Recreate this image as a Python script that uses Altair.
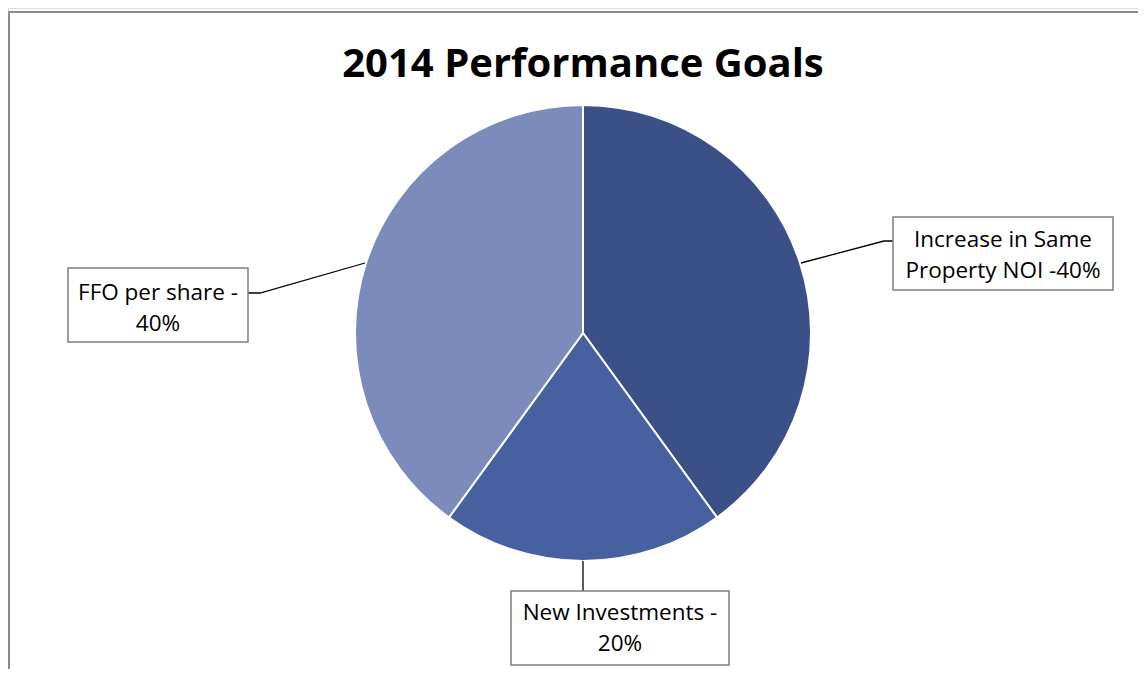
import altair as alt
import pandas as pd

# ---- data ----
categories = ["Increase in Same Property NOI", "New Investments", "FFO per share"]
values = [40, 20, 40]
label_texts = ["Increase in Same\nProperty NOI -40%", "New Investments -\n20%", "FFO per share -\n40%"]
title_text = "2014 Performance Goals"

# ---- styling / layout ----
colors = ["#3A5087", "#4660A0", "#7B8BBB"]
OX, OY = 8, 8           # page position of plot origin
W, H = 1130, 661
R = 228
FONT = "Open Sans"


def px(v):
    return v - OX


def py(v):
    return v - OY


pie_df = pd.DataFrame({"cat": categories, "val": values, "ord": [0, 1, 2]})

# label boxes (page coordinates)
box_x = [893, 511, 68]
box_x2 = [1113, 729, 248]
box_y = [217, 591, 268]
box_y2 = [290, 665, 342]
first_line_y = [240, 613, 293]
boxes_df = pd.DataFrame({
    "cat": categories,
    "x": [px(v) for v in box_x], "x2": [px(v) for v in box_x2],
    "y": [py(v) for v in box_y], "y2": [py(v) for v in box_y2],
    "tx": [px((a + b) / 2) for a, b in zip(box_x, box_x2)],
    "ty": [py(v) for v in first_line_y],
    "label": label_texts,
})

# leader lines (page coordinates)
lx = [801, 884, 893, 583, 583, 365, 260, 248]
ly = [263, 241, 241, 561, 591, 263, 293, 293]
leaders_df = pd.DataFrame({
    "cat": ["a", "a", "a", "b", "b", "c", "c", "c"],
    "o": [0, 1, 2, 0, 1, 0, 1, 2],
    "x": [px(v) for v in lx],
    "y": [py(v) for v in ly],
})

xs = alt.Scale(domain=[0, W], nice=False, zero=False)
ys = alt.Scale(domain=[0, H], nice=False, zero=False, reverse=True)

one = pd.DataFrame({"a": [0]})
border_left = alt.Chart(one).mark_rule(color="#8C8C8C", strokeWidth=2).encode(
    x=alt.value(1), y=alt.value(py(12)), y2=alt.value(H + 10)
)
border_top = alt.Chart(one).mark_rule(color="#8C8C8C", strokeWidth=2).encode(
    x=alt.value(0), x2=alt.value(W + 10), y=alt.value(py(12))
)

pie = alt.Chart(pie_df).mark_arc(
    outerRadius=R, stroke="white", strokeWidth=2
).encode(
    theta=alt.Theta("val:Q", stack=True),
    color=alt.Color("cat:N", scale=alt.Scale(domain=categories, range=colors), legend=None),
    order=alt.Order("ord:Q"),
    x=alt.value(px(583)), y=alt.value(py(333)),
)

leaders = alt.Chart(leaders_df).mark_line(color="black", strokeWidth=1.3).encode(
    x=alt.X("x:Q", scale=xs, axis=None),
    y=alt.Y("y:Q", scale=ys, axis=None),
    detail="cat:N",
    order="o:Q",
)

boxes = alt.Chart(boxes_df).mark_rect(
    fill="white", stroke="#7F7F7F", strokeWidth=1.5
).encode(
    x=alt.X("x:Q", scale=xs, axis=None), x2="x2:Q",
    y=alt.Y("y:Q", scale=ys, axis=None), y2="y2:Q",
)

labels = alt.Chart(boxes_df).mark_text(
    font=FONT, fontSize=22.5, color="black", lineBreak="\n", lineHeight=31,
    align="center", baseline="middle"
).encode(
    x=alt.X("tx:Q", scale=xs, axis=None),
    y=alt.Y("ty:Q", scale=ys, axis=None),
    text="label:N",
)

title = alt.Chart(pd.DataFrame({"t": [title_text]})).mark_text(
    font=FONT, fontSize=40, fontWeight="bold", color="black",
    align="center", baseline="middle"
).encode(x=alt.value(px(583)), y=alt.value(py(65)), text="t:N")

chart = alt.layer(border_left, border_top, pie, leaders, boxes, labels, title).properties(
    width=W, height=H,
    padding=0,
    autosize=alt.AutoSizeParams(type="none"),
).configure_view(stroke="transparent", strokeOpacity=0, strokeWidth=0).configure(background="white")

chart.save("out.html", embed_options={"renderer": "svg", "actions": False})
